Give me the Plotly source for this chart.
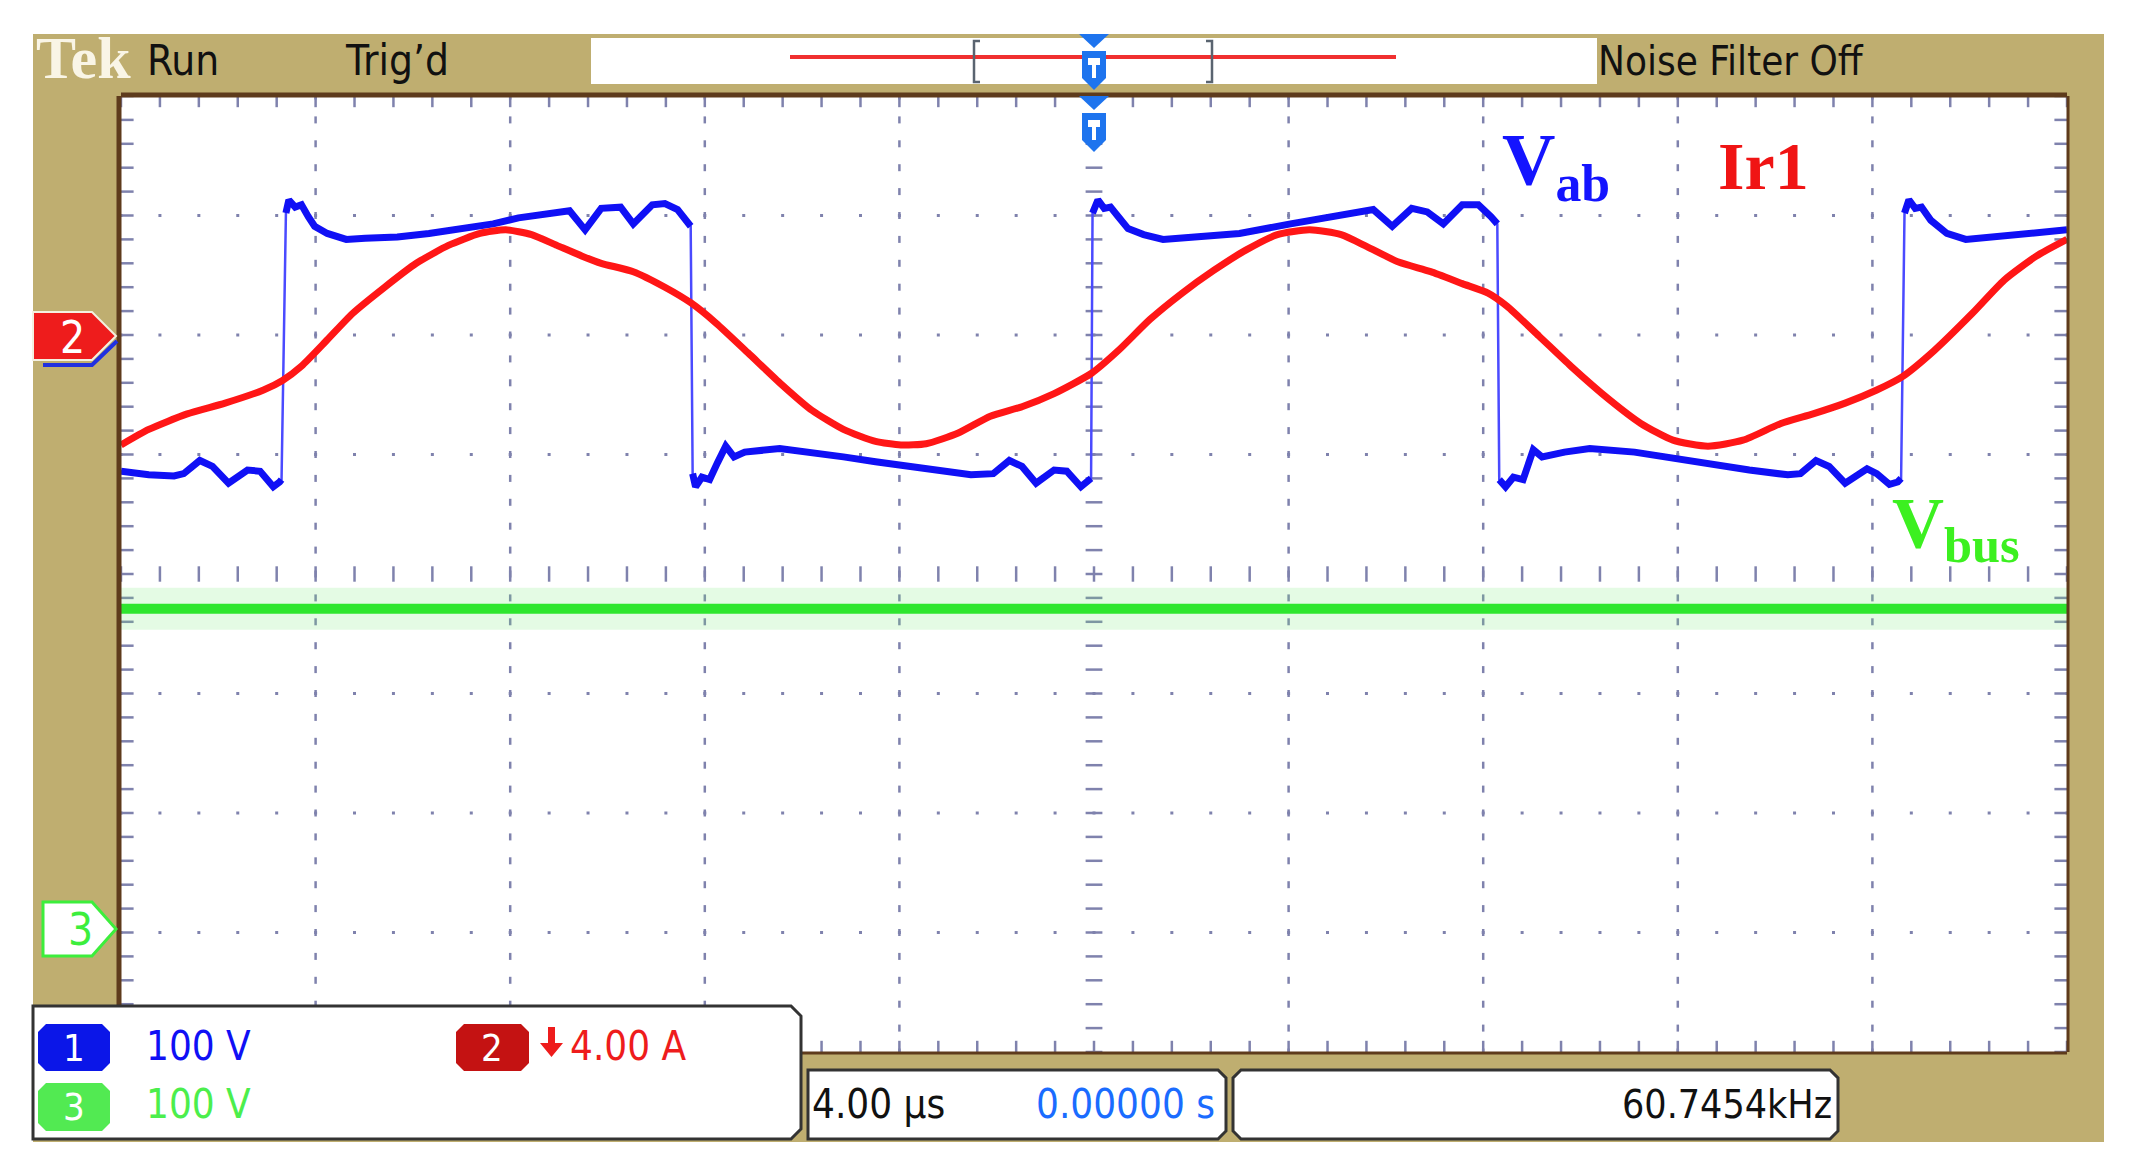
"""Tek scope capture: Vab, Ir1 and Vbus over two switching periods."""

import numpy as np
import plotly.graph_objects as go

W, H = 2136, 1173
PAGE_MARGIN = 8  # default body margin of the written html page

# time in microseconds (4 us/div, trigger at 0), levels in screen divisions
vab_t = [-20.0, -19.43, -18.91, -18.71, -18.38, -18.12, -17.79, -17.40, -17.14, -16.87,
         -16.74, -16.70, -16.61, -16.55, -16.42, -16.29, -16.15, -16.02, -15.76, -15.37,
         -14.98, -14.32, -13.67, -13.01, -12.35, -11.83, -11.18, -10.78, -10.46, -10.13,
         -9.73, -9.47, -9.08, -8.82, -8.56, -8.36, -8.29, -8.25, -8.19, -8.06,
         -7.90, -7.74, -7.57, -7.40, -7.18, -6.46, -5.80, -5.15, -4.49, -3.84,
         -3.18, -2.53, -2.07, -1.74, -1.48, -1.19, -0.82, -0.56, -0.27, -0.14,
         -0.06, -0.03, 0.08, 0.21, 0.34, 0.50, 0.70, 1.02, 1.42, 2.07,
         2.99, 4.04, 4.95, 5.74, 6.13, 6.53, 6.85, 7.18, 7.57, 7.90,
         8.16, 8.29, 8.33, 8.46, 8.62, 8.82, 9.03, 9.21, 9.67, 10.19,
         11.11, 12.16, 13.47, 14.26, 14.52, 14.84, 15.11, 15.44, 15.89, 16.09,
         16.35, 16.52, 16.59, 16.66, 16.75, 16.88, 17.01, 17.20, 17.53, 17.92,
         18.45, 19.10, 20.0]
vab_div = [0.86, 0.83, 0.82, 0.84, 0.95, 0.90, 0.76, 0.87, 0.86, 0.73,
           0.77, 0.79, 3.02, 3.13, 3.07, 3.09, 2.99, 2.91, 2.85, 2.80,
           2.81, 2.82, 2.85, 2.89, 2.93, 2.98, 3.02, 3.04, 2.88, 3.06,
           3.07, 2.93, 3.09, 3.10, 3.05, 2.95, 2.91, 0.84, 0.73, 0.81,
           0.79, 0.93, 1.07, 0.98, 1.02, 1.05, 1.02, 0.98, 0.94, 0.90,
           0.86, 0.83, 0.84, 0.95, 0.90, 0.76, 0.87, 0.86, 0.73, 0.77,
           0.80, 3.02, 3.13, 3.06, 3.07, 2.99, 2.89, 2.84, 2.80, 2.82,
           2.85, 2.93, 3.00, 3.05, 2.91, 3.06, 3.03, 2.93, 3.09, 3.09,
           2.99, 2.93, 0.79, 0.73, 0.81, 0.79, 1.04, 0.98, 1.02, 1.05,
           1.02, 0.95, 0.87, 0.83, 0.84, 0.95, 0.90, 0.76, 0.88, 0.84,
           0.75, 0.77, 0.80, 3.02, 3.13, 3.06, 3.07, 2.96, 2.85, 2.80,
           2.82, 2.85, 2.88]

ir1_t = [-20.0, -19.43, -18.64, -17.86, -17.07, -16.68, -16.29, -15.76, -15.24, -14.58,
         -13.93, -13.27, -12.62, -12.09, -11.56, -11.04, -10.52, -10.13, -9.47, -8.82,
         -8.29, -7.77, -7.11, -6.46, -5.80, -5.15, -4.49, -3.97, -3.45, -2.79,
         -2.13, -1.48, -0.82, -0.05, 0.50, 1.15, 1.81, 2.46, 3.12, 3.77,
         4.43, 5.08, 5.61, 6.26, 6.92, 7.57, 8.10, 8.49, 9.15, 9.80,
         10.59, 11.24, 11.90, 12.62, 13.34, 14.12, 14.78, 15.44, 16.09, 16.61,
         17.27, 18.05, 18.71, 19.37, 20.0]
ir1_div = [1.08, 1.21, 1.34, 1.43, 1.54, 1.62, 1.74, 1.96, 2.18, 2.40,
           2.60, 2.75, 2.85, 2.88, 2.84, 2.75, 2.66, 2.60, 2.53, 2.40,
           2.27, 2.10, 1.85, 1.60, 1.37, 1.21, 1.11, 1.08, 1.09, 1.18,
           1.32, 1.40, 1.51, 1.68, 1.87, 2.13, 2.35, 2.54, 2.71, 2.84,
           2.88, 2.84, 2.74, 2.61, 2.53, 2.43, 2.35, 2.24, 1.99, 1.74,
           1.46, 1.26, 1.12, 1.07, 1.12, 1.26, 1.34, 1.43, 1.54, 1.65,
           1.87, 2.18, 2.46, 2.66, 2.80]

vbus_t = [-20.0, 20.0]
vbus_div = [-0.29, -0.29]

status_labels = ["Run", "Trig’d", "Noise Filter Off"]
scale_labels = ["100 V", "4.00 A", "100 V"]
timebase_label = "4.00 µs"
position_label = "0.00000 s"
freq_label = "60.7454kHz"

TAN = "#bfae70"
BROWN = "#5e3b1c"
GRID = "#7f82ad"
BLUE = "#1010f5"
RED = "#ff1616"
GREEN = "#2ee62e"
UI_FONT = "Liberation Sans Narrow, DejaVu Sans Condensed, Arial Narrow, sans-serif"
SERIF = "Liberation Serif, Times New Roman, serif"

FW, FH = W - PAGE_MARGIN, H - PAGE_MARGIN
X0, X1, YT, YB = 121, 2067, 96, 1052


def px(x):
    return (x - PAGE_MARGIN) / FW


def py(y):
    return 1 - (y - PAGE_MARGIN) / FH


def rect(x0, y0, x1, y1, fill, line=None, lw=0, layer="above"):
    return dict(type="rect", xref="paper", yref="paper", x0=px(x0), x1=px(x1),
                y0=py(y1), y1=py(y0), fillcolor=fill, layer=layer,
                line=dict(color=line or fill, width=lw))


def hline(x0, x1, y, color, width):
    return dict(type="line", xref="paper", yref="paper", x0=px(x0), x1=px(x1),
                y0=py(y), y1=py(y), line=dict(color=color, width=width), layer="above")


def vline(x, y0, y1, color, width):
    return dict(type="line", xref="paper", yref="paper", x0=px(x), x1=px(x),
                y0=py(y0), y1=py(y1), line=dict(color=color, width=width), layer="above")


def path(points, fill, line=None, lw=0, closed=True, layer="above"):
    d = "M" + " L".join(f"{px(x):.5f},{py(y):.5f}" for x, y in points)
    if closed:
        d += " Z"
    return dict(type="path", xref="paper", yref="paper", path=d, layer=layer,
                fillcolor=fill if closed else None,
                line=dict(color=line or fill, width=lw))


def badge(x0, y0, x1, y1, c=8):
    return [(x0 + c, y0), (x1 - c, y0), (x1, y0 + c), (x1, y1 - c), (x1 - c, y1),
            (x0 + c, y1), (x0, y1 - c), (x0, y0 + c)]


def panel(x0, y0, x1, y1, r=10):
    return [(x0, y0), (x1 - r, y0), (x1, y0 + r), (x1, y1 - r), (x1 - r, y1), (x0, y1)]


def text(x, y, s, color="#111", size=40, family=UI_FONT, anchor="left"):
    return dict(x=px(x), y=py(y), xref="paper", yref="paper", text=s, showarrow=False,
                xanchor=anchor, yanchor="middle",
                font=dict(family=family, size=size, color=color))


fig = go.Figure()

# graticule: dotted lines, centre ticks and edge ticks
step_x, step_y = 0.8, 0.2
gx = np.round(np.arange(-20, 20.001, step_x), 3)
gy = np.round(np.arange(-4, 4.001, step_y), 3)
hx, hy = [], []
for yv in [-3, -2, -1, 1, 2, 3]:
    hx += list(gx); hy += [yv] * len(gx)
vx, vy = [], []
for xv in [-16, -12, -8, -4, 4, 8, 12, 16]:
    vx += [xv] * len(gy); vy += list(gy)


def ticks(x, y, symbol, size, width=2.5):
    fig.add_trace(go.Scatter(x=x, y=y, mode="markers", hoverinfo="skip",
                             marker=dict(symbol=symbol, size=size, color=GRID,
                                         line=dict(color=GRID, width=width))))


ticks(hx, hy, "square", 3, 0)
ticks(vx, vy, "line-ns", 5)
ticks(list(gx), [0] * len(gx), "line-ns", 11)
ticks([0] * len(gy), list(gy), "line-ew", 12)
ticks(list(gx) * 2, [4] * len(gx) + [-4] * len(gx), "line-ns", 16)
ticks([-20] * len(gy) + [20] * len(gy), list(gy) * 2, "line-ew", 18)

# Vbus: halo and trace
fig.add_trace(go.Scatter(x=vbus_t, y=vbus_div, mode="lines", hoverinfo="skip",
                         line=dict(color="rgba(120,235,120,0.2)", width=42)))
fig.add_trace(go.Scatter(x=vbus_t, y=vbus_div, mode="lines", hoverinfo="skip",
                         line=dict(color=GREEN, width=10)))

# Vab: thin edges through every point, thick plateaus between edges
fig.add_trace(go.Scatter(x=vab_t, y=vab_div, mode="lines", hoverinfo="skip",
                         line=dict(color="#4a4aff", width=2.5)))
thick_t, thick_y = [vab_t[0]], [vab_div[0]]
for i in range(1, len(vab_t)):
    if abs(vab_div[i] - vab_div[i - 1]) > 1.5:
        thick_t.append(None); thick_y.append(None)
    thick_t.append(vab_t[i]); thick_y.append(vab_div[i])
fig.add_trace(go.Scatter(x=thick_t, y=thick_y, mode="lines", hoverinfo="skip",
                         line=dict(color=BLUE, width=7), connectgaps=False))

# Ir1
fig.add_trace(go.Scatter(x=ir1_t, y=ir1_div, mode="lines", hoverinfo="skip",
                         line=dict(color=RED, width=7, shape="spline", smoothing=0.6)))

shapes = [
    rect(33, 34, 2104, 1142, TAN, layer="below"),
    rect(X0, YT, X1, YB, "white", layer="below"),
    # graticule border
    hline(X0, X1, YT - 1, BROWN, 5),
    vline(X0 - 2, YT, YB, BROWN, 5),
    vline(X1 + 1, YT, YB, BROWN, 3),
    hline(X0, X1, YB + 1, BROWN, 3),
    # status bar record view
    rect(591, 38, 1597, 84, "white"),
    hline(790, 1396, 57, "#f03030", 4),
    path([(980, 41), (974, 41), (974, 82), (980, 82)], None, "#5a6470", 2.5, closed=False),
    path([(1206, 41), (1212, 41), (1212, 82), (1206, 82)], None, "#5a6470", 2.5, closed=False),
]

# trigger position markers
for top in (34, 96):
    shapes.append(path([(1079, top), (1109, top), (1094, top + 14)], "#1e74ee"))
    shapes.append(path([(1082, top + 17), (1106, top + 17), (1106, top + 44), (1094, top + 56),
                        (1082, top + 44)], "#1e74ee"))
    shapes.append(path([(1088, top + 24), (1100, top + 24), (1100, top + 31), (1096, top + 31),
                        (1096, top + 44), (1092, top + 44), (1092, top + 31), (1088, top + 31)],
                       "white"))

# channel ground markers
shapes.append(path([(43, 365), (92, 365), (117, 341)], None, "#2030e0", 4, closed=False))
shapes.append(path([(33, 312), (92, 312), (116, 336), (92, 360), (33, 360)], "#ee1c1c", "#f4f0e0", 2))
shapes.append(path([(43, 902), (92, 902), (116, 929), (92, 956), (43, 956)], "white", "#3cee3c", 3))

# readout panels
shapes += [
    path(panel(33, 1006, 801, 1139), "white", "#333333", 3),
    path(panel(808, 1070, 1226, 1139, 8), "white", "#333333", 3),
    path(badge(1233, 1070, 1838, 1139, 8), "white", "#333333", 3),
    path(badge(38, 1024, 110, 1071), "#0b16e8"),
    path(badge(38, 1083, 110, 1131), "#52ea52"),
    path(badge(456, 1024, 529, 1071), "#c41212"),
    path([(548, 1027), (555, 1027), (555, 1043), (563, 1043), (551.5, 1057), (540, 1043),
          (548, 1043)], "#ee1c1c"),
]

annotations = [
    text(34, 58, "<b>Tek</b>", "#f9f5e6", 60, SERIF),
    text(145, 61, status_labels[0], size=42),
    text(343, 61, status_labels[1], size=42),
    text(1596, 61, status_labels[2], size=40),
    text(72, 337, "2", "white", 44, anchor="center"),
    text(80, 929, "3", "#3cee3c", 44, anchor="center"),
    text(74, 1048, "1", "white", 38, anchor="center"),
    text(74, 1107, "3", "white", 38, anchor="center"),
    text(492, 1048, "2", "white", 38, anchor="center"),
    text(144, 1046, scale_labels[0], BLUE, 40),
    text(568, 1046, scale_labels[1], "#ee1c1c", 40),
    text(144, 1104, scale_labels[2], "#4cee4c", 40),
    text(810, 1104, timebase_label, size=40),
    text(1217, 1104, position_label, "#1a6cff", 40, anchor="right"),
    text(1834, 1104, freq_label, size=39, anchor="right"),
    text(1500, 166, "<b>V<sub>ab</sub></b>", "#1414ff", 74, SERIF),
    text(1716, 166, "<b>Ir1</b>", "#f01414", 68, SERIF),
    text(1890, 528, "<b>V<sub>bus</sub></b>", "#3cf020", 72, SERIF),
]

fig.update_layout(
    width=FW, height=FH,
    margin=dict(l=0, r=0, t=0, b=0),
    paper_bgcolor="white",
    plot_bgcolor="white",
    showlegend=False,
    shapes=shapes,
    annotations=annotations,
    xaxis=dict(range=[-20, 20], domain=[px(X0), px(X1)], visible=False, fixedrange=True),
    yaxis=dict(range=[-4, 4], domain=[py(YB), py(YT)], visible=False, fixedrange=True),
)

fig.write_html("out.html")
